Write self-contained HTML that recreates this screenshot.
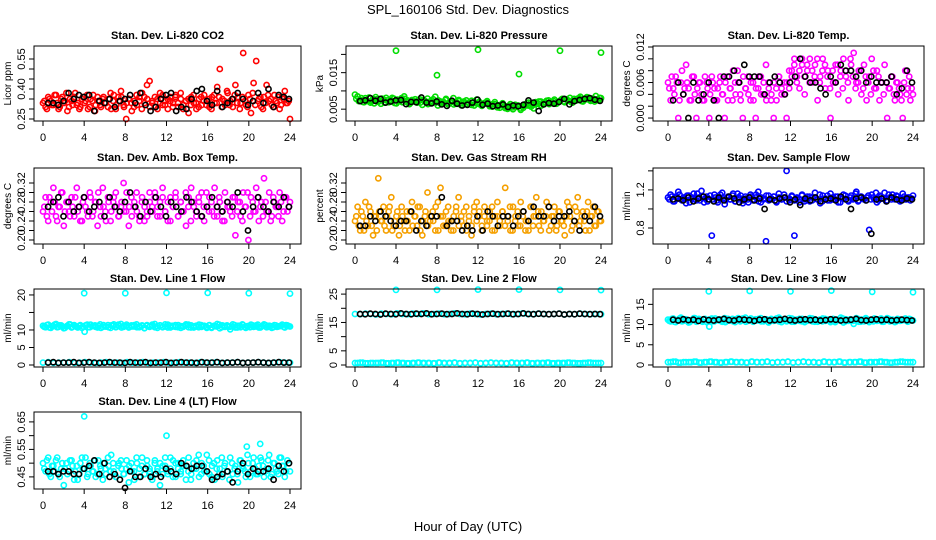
<!DOCTYPE html>
<html><head><meta charset="utf-8"><style>
html,body{margin:0;padding:0;background:#fff;}
svg{display:block;font-family:"Liberation Sans",sans-serif;}
</style></head><body>
<svg id="chart" width="936" height="540" viewBox="0 0 936 540">
<rect width="936" height="540" fill="#fff"/>
<text x="468" y="14" text-anchor="middle" font-size="13">SPL_160106  Std. Dev. Diagnostics</text>
<text x="468" y="531" text-anchor="middle" font-size="13">Hour of Day (UTC)</text>
</svg>
<script>
const xTicks = [0,4,8,12,16,20,24];
const co2Color = [0.33,0.31,0.36,0.34,0.32,0.37,0.30,0.35,0.33,0.38,0.31,0.34,0.36,0.32,0.30,0.35,0.33,0.37,0.31,0.34,0.29,0.36,0.32,0.35,0.33,0.31,0.38,0.34,0.30,0.36,0.39,0.32,0.25,0.35,0.33,0.31,0.37,0.34,0.30,0.36,0.42,0.44,0.33,0.31,0.35,0.38,0.32,0.34,0.30,0.36,0.33,0.37,0.31,0.35,0.32,0.34,0.28,0.36,0.33,0.30,0.35,0.32,0.37,0.34,0.31,0.36,0.33,0.41,0.50,0.35,0.32,0.38,0.34,0.31,0.42,0.36,0.33,0.58,0.32,0.37,0.28,0.43,0.54,0.35,0.31,0.36,0.42,0.34,0.32,0.37,0.33,0.30,0.36,0.39,0.33,0.25];
const co2Color2 = [0.34,0.30,0.35,0.32,0.37,0.33,0.31,0.36,0.34,0.29,0.35,0.32,0.38,0.33,0.31,0.36,0.34,0.30,0.35,0.37,0.32,0.34,0.31,0.36,0.33,0.35,0.30,0.37,0.32,0.34,0.36,0.31,0.33,0.35,0.29,0.34,0.32,0.36,0.38,0.33,0.35,0.31,0.34,0.36,0.30,0.33,0.37,0.32,0.35,0.34,0.31,0.36,0.33,0.38,0.30,0.34,0.35,0.32,0.37,0.33,0.31,0.36,0.34,0.32,0.35,0.30,0.37,0.33,0.36,0.31,0.34,0.39,0.32,0.35,0.37,0.33,0.30,0.36,0.34,0.31,0.35,0.38,0.32,0.34,0.36,0.30,0.33,0.37,0.35,0.31,0.34,0.36,0.32,0.35,0.33,0.34];
const co2Black = [0.33,0.33,0.32,0.34,0.38,0.35,0.37,0.36,0.37,0.29,0.34,0.33,0.35,0.31,0.34,0.35,0.37,0.33,0.38,0.32,0.29,0.31,0.35,0.37,0.38,0.29,0.31,0.30,0.35,0.39,0.40,0.34,0.32,0.39,0.31,0.33,0.35,0.38,0.35,0.32,0.34,0.38,0.33,0.40,0.31,0.37,0.36,0.35];
const presColor = [0.0090,0.0085,0.0075,0.0070,0.0080,0.0072,0.0068,0.0078,0.0083,0.0070,0.0065,0.0076,0.0081,0.0069,0.0074,0.0079,0.0066,0.0072,0.0080,0.0085,0.0070,0.0064,0.0075,0.0071,0.0068,0.0077,0.0062,0.0073,0.0079,0.0066,0.0070,0.0084,0.0060,0.0071,0.0067,0.0075,0.0063,0.0069,0.0080,0.0065,0.0072,0.0061,0.0068,0.0074,0.0066,0.0062,0.0070,0.0076,0.0064,0.0059,0.0067,0.0072,0.0058,0.0063,0.0069,0.0055,0.0061,0.0066,0.0053,0.0058,0.0064,0.0050,0.0056,0.0060,0.0048,0.0054,0.0062,0.0068,0.0057,0.0052,0.0065,0.0071,0.0060,0.0067,0.0073,0.0064,0.0070,0.0076,0.0066,0.0072,0.0078,0.0069,0.0075,0.0081,0.0068,0.0074,0.0079,0.0084,0.0071,0.0077,0.0082,0.0073,0.0079,0.0086,0.0074,0.0080];
const presColor2 = [0.0078,0.0072,0.0080,0.0069,0.0075,0.0082,0.0071,0.0066,0.0077,0.0073,0.0079,0.0068,0.0074,0.0070,0.0081,0.0067,0.0076,0.0072,0.0069,0.0078,0.0074,0.0066,0.0071,0.0077,0.0073,0.0068,0.0075,0.0070,0.0064,0.0072,0.0077,0.0068,0.0074,0.0065,0.0070,0.0078,0.0067,0.0072,0.0063,0.0069,0.0075,0.0066,0.0071,0.0064,0.0068,0.0073,0.0060,0.0066,0.0070,0.0062,0.0065,0.0068,0.0061,0.0057,0.0064,0.0060,0.0054,0.0062,0.0058,0.0051,0.0059,0.0055,0.0062,0.0057,0.0052,0.0058,0.0064,0.0060,0.0066,0.0062,0.0069,0.0065,0.0071,0.0063,0.0068,0.0074,0.0067,0.0072,0.0065,0.0070,0.0076,0.0071,0.0077,0.0073,0.0069,0.0078,0.0074,0.0080,0.0072,0.0076,0.0083,0.0075,0.0079,0.0071,0.0077,0.0081];
const presBlack = [0.0072,0.0074,0.0080,0.0073,0.0078,0.0068,0.0071,0.0074,0.0075,0.0064,0.0070,0.0069,0.0082,0.0068,0.0066,0.0071,0.0063,0.0059,0.0073,0.0065,0.0060,0.0062,0.0068,0.0076,0.0062,0.0065,0.0058,0.0060,0.0063,0.0056,0.0060,0.0058,0.0062,0.0074,0.0068,0.0045,0.0063,0.0067,0.0065,0.0070,0.0078,0.0063,0.0072,0.0075,0.0078,0.0080,0.0076,0.0073];
const presOutX = [4,8,12,16,20,24];
const presOutY = [0.0210,0.0143,0.0213,0.0146,0.0210,0.0205];
const tempColor = [0.006,0.003,0.005,0.007,0.000,0.006,0.004,0.009,0.005,0.003,0.007,0.000,0.006,0.004,0.003,0.006,0.000,0.007,0.005,0.003,0.006,0.004,0.000,0.007,0.005,0.003,0.006,0.008,0.004,0.000,0.005,0.007,0.003,0.006,0.000,0.005,0.007,0.004,0.009,0.006,0.003,0.000,0.005,0.007,0.004,0.006,0.000,0.005,0.008,0.010,0.007,0.005,0.009,0.004,0.008,0.010,0.006,0.009,0.003,0.007,0.010,0.005,0.008,0.000,0.006,0.009,0.004,0.008,0.010,0.007,0.003,0.009,0.011,0.006,0.008,0.004,0.009,0.003,0.007,0.010,0.005,0.008,0.003,0.006,0.009,0.000,0.005,0.007,0.003,0.006,0.004,0.000,0.008,0.005,0.003,0.004];
const tempColor2 = [0.005,0.007,0.004,0.006,0.003,0.008,0.005,0.006,0.003,0.007,0.004,0.005,0.006,0.003,0.007,0.005,0.004,0.006,0.003,0.005,0.007,0.004,0.006,0.003,0.005,0.008,0.004,0.006,0.003,0.007,0.005,0.004,0.006,0.003,0.005,0.007,0.004,0.006,0.003,0.005,0.004,0.006,0.003,0.007,0.005,0.004,0.006,0.008,0.007,0.009,0.006,0.008,0.010,0.007,0.009,0.006,0.008,0.007,0.010,0.006,0.008,0.009,0.007,0.005,0.008,0.006,0.009,0.007,0.005,0.008,0.006,0.010,0.007,0.005,0.006,0.008,0.005,0.007,0.006,0.004,0.008,0.005,0.007,0.006,0.004,0.006,0.005,0.007,0.004,0.006,0.005,0.003,0.006,0.004,0.007,0.005];
const tempBlack = [0.003,0.006,0.004,0.000,0.006,0.003,0.004,0.006,0.003,0.000,0.007,0.007,0.008,0.006,0.009,0.007,0.007,0.007,0.004,0.006,0.007,0.006,0.004,0.006,0.007,0.010,0.007,0.006,0.006,0.005,0.004,0.007,0.006,0.009,0.008,0.008,0.007,0.008,0.006,0.007,0.006,0.006,0.006,0.007,0.004,0.005,0.008,0.006];
const ambColor = [0.26,0.29,0.24,0.28,0.31,0.25,0.27,0.30,0.23,0.28,0.26,0.29,0.25,0.31,0.27,0.24,0.29,0.26,0.30,0.25,0.28,0.23,0.27,0.31,0.26,0.29,0.24,0.28,0.30,0.25,0.27,0.32,0.26,0.23,0.29,0.27,0.30,0.25,0.28,0.24,0.26,0.30,0.27,0.29,0.25,0.28,0.31,0.26,0.24,0.29,0.27,0.30,0.25,0.28,0.26,0.23,0.29,0.31,0.27,0.25,0.28,0.30,0.24,0.27,0.29,0.26,0.31,0.25,0.28,0.24,0.30,0.27,0.26,0.29,0.21,0.28,0.25,0.30,0.27,0.20,0.29,0.26,0.31,0.24,0.28,0.33,0.26,0.30,0.25,0.28,0.27,0.30,0.24,0.29,0.26,0.28];
const ambColor2 = [0.27,0.25,0.29,0.26,0.28,0.24,0.27,0.30,0.26,0.28,0.25,0.27,0.29,0.26,0.24,0.28,0.27,0.25,0.29,0.26,0.28,0.30,0.25,0.27,0.24,0.28,0.26,0.29,0.27,0.25,0.28,0.26,0.30,0.27,0.25,0.28,0.26,0.24,0.29,0.27,0.25,0.28,0.26,0.30,0.27,0.25,0.29,0.26,0.28,0.24,0.27,0.29,0.25,0.28,0.26,0.30,0.27,0.24,0.28,0.26,0.29,0.25,0.27,0.30,0.26,0.28,0.25,0.27,0.29,0.26,0.24,0.28,0.27,0.25,0.29,0.26,0.28,0.24,0.27,0.30,0.25,0.28,0.26,0.29,0.27,0.25,0.28,0.26,0.24,0.29,0.27,0.25,0.28,0.26,0.29,0.27];
const ambBlack = [0.27,0.28,0.29,0.25,0.28,0.26,0.27,0.29,0.26,0.27,0.28,0.25,0.29,0.27,0.26,0.28,0.30,0.27,0.25,0.28,0.26,0.29,0.27,0.25,0.28,0.27,0.26,0.29,0.28,0.26,0.25,0.27,0.29,0.27,0.26,0.28,0.27,0.30,0.26,0.22,0.27,0.29,0.27,0.26,0.28,0.27,0.29,0.27];
const rhColor = [0.24,0.27,0.22,0.25,0.28,0.23,0.26,0.21,0.25,0.33,0.24,0.27,0.22,0.26,0.29,0.23,0.25,0.21,0.27,0.24,0.26,0.22,0.28,0.25,0.23,0.27,0.21,0.25,0.30,0.24,0.26,0.22,0.28,0.31,0.25,0.23,0.27,0.24,0.22,0.26,0.29,0.25,0.23,0.27,0.24,0.21,0.26,0.28,0.25,0.23,0.27,0.24,0.26,0.22,0.25,0.28,0.23,0.26,0.31,0.24,0.22,0.27,0.25,0.23,0.28,0.26,0.24,0.22,0.27,0.25,0.29,0.23,0.26,0.24,0.28,0.22,0.25,0.27,0.23,0.26,0.24,0.21,0.28,0.25,0.23,0.27,0.29,0.24,0.26,0.22,0.28,0.25,0.27,0.23,0.26,0.24];
const rhColor2 = [0.25,0.23,0.26,0.22,0.24,0.27,0.23,0.25,0.22,0.26,0.24,0.23,0.25,0.27,0.22,0.24,0.26,0.23,0.25,0.22,0.24,0.26,0.23,0.25,0.27,0.22,0.24,0.26,0.23,0.25,0.24,0.27,0.22,0.25,0.23,0.26,0.24,0.22,0.25,0.27,0.23,0.24,0.26,0.22,0.25,0.23,0.27,0.24,0.26,0.22,0.25,0.23,0.24,0.27,0.22,0.25,0.24,0.26,0.23,0.25,0.27,0.22,0.24,0.26,0.23,0.25,0.22,0.24,0.27,0.23,0.25,0.26,0.22,0.24,0.25,0.27,0.23,0.25,0.22,0.26,0.24,0.23,0.25,0.27,0.22,0.24,0.26,0.23,0.25,0.24,0.26,0.22,0.25,0.23,0.26,0.24];
const rhBlack = [0.23,0.23,0.25,0.24,0.26,0.25,0.24,0.23,0.24,0.24,0.26,0.22,0.24,0.23,0.25,0.25,0.29,0.23,0.24,0.24,0.22,0.23,0.22,0.25,0.22,0.26,0.25,0.23,0.25,0.25,0.23,0.25,0.26,0.24,0.27,0.25,0.25,0.27,0.24,0.25,0.25,0.26,0.24,0.22,0.25,0.24,0.27,0.25];
const flowColor = [1.12,1.15,1.08,1.13,1.18,1.10,1.12,1.06,1.14,1.11,1.16,1.09,1.12,1.19,1.07,1.13,1.10,0.72,1.15,1.09,1.11,1.17,1.05,1.12,1.10,1.14,1.08,1.16,1.11,1.06,1.13,1.10,1.15,1.09,1.12,1.18,1.07,1.11,0.66,1.14,1.10,1.13,1.08,1.16,1.10,1.12,1.40,1.09,1.14,0.72,1.11,1.07,1.15,1.10,1.13,1.08,1.12,1.17,1.10,1.06,1.14,1.11,1.09,1.16,1.10,1.13,1.07,1.12,1.15,1.10,1.08,1.14,1.11,1.18,1.09,1.13,1.10,1.12,0.78,1.15,1.10,1.07,1.14,1.11,1.17,1.09,1.12,1.15,1.10,1.13,1.08,1.16,1.10,1.12,1.09,1.14];
const flowColor2 = [1.10,1.13,1.08,1.12,1.15,1.09,1.11,1.14,1.07,1.12,1.10,1.16,1.09,1.13,1.11,1.08,1.14,1.10,1.12,1.07,1.15,1.11,1.09,1.13,1.10,1.16,1.08,1.12,1.14,1.09,1.11,1.07,1.13,1.10,1.15,1.08,1.12,1.10,1.14,1.09,1.11,1.13,1.07,1.12,1.10,1.15,1.08,1.11,1.13,1.09,1.12,1.10,1.14,1.08,1.11,1.13,1.09,1.12,1.10,1.15,1.08,1.11,1.14,1.09,1.12,1.10,1.13,1.07,1.11,1.14,1.09,1.12,1.10,1.16,1.08,1.13,1.11,1.09,1.14,1.10,1.12,1.17,1.09,1.13,1.11,1.08,1.15,1.10,1.12,1.14,1.09,1.11,1.13,1.10,1.12,1.11];
const flowBlack = [1.10,1.11,1.09,1.12,1.08,1.11,1.13,1.10,1.08,1.12,1.09,1.13,1.11,1.07,1.10,1.12,1.09,1.11,1.00,1.10,1.09,1.11,1.12,1.07,1.10,1.04,1.11,1.09,1.12,1.08,1.10,1.11,1.09,1.13,1.10,1.00,1.11,1.12,1.09,0.74,1.10,1.11,1.08,1.12,1.10,1.09,1.11,1.10];
const line1Band = [11.2,10.8,11.5,10.6,11.1,11.7,10.9,11.3,10.5,11.0,11.6,10.7,11.4,10.9,11.2,10.6,9.5,11.5,10.8,11.1,11.3,10.7,11.6,10.9,11.0,11.4,10.6,11.2,10.8,11.5,11.7,10.9,11.1,10.7,11.3,11.0,11.6,10.8,11.2,10.5,11.4,10.9,11.1,11.7,10.6,11.3,10.8,11.0,11.5,10.7,11.2,10.9,11.4,10.6,11.1,11.6,10.8,11.3,10.7,11.0,11.5,10.9,11.2,10.6,11.4,10.8,11.1,11.7,10.5,11.3,10.9,11.0,10.2,11.6,10.7,11.2,10.8,11.4,10.6,11.1,11.5,10.9,11.3,10.7,11.0,11.6,10.8,11.2,10.6,11.4,10.9,11.1,11.5,10.7,11.3,11.0];
const line1Band2 = [10.9,11.4,10.7,11.1,11.5,10.8,11.3,11.0,10.6,11.2,11.6,10.9,11.1,10.7,11.4,11.0,11.3,10.8,11.5,11.1,10.9,11.2,10.6,11.4,11.0,10.8,11.3,11.6,10.9,11.1,10.7,11.2,11.5,10.9,11.0,11.4,10.8,11.1,11.3,10.6,11.2,11.0,11.5,10.8,11.1,11.3,10.9,11.6,10.7,11.2,11.0,11.4,10.8,11.1,10.9,11.3,11.5,10.7,11.0,11.2,10.8,11.4,11.1,10.9,11.3,10.6,11.2,11.0,11.5,10.8,11.1,11.3,10.9,11.0,11.4,10.7,11.2,11.6,10.9,11.1,10.8,11.3,11.0,11.5,10.7,11.2,11.4,10.9,11.1,10.8,11.3,11.0,11.2,10.9,11.4,11.1];
const lowBand = [0.7,0.8,0.6,0.7,0.7,0.8,0.6,0.7,0.8,0.7,0.6,0.7,0.8,0.7,0.7,0.6,0.8,0.7,0.7,0.8,0.6,0.7,0.7,0.8,0.6,0.7,0.8,0.7,0.7,0.6,0.8,0.7,0.7,0.8,0.6,0.7,0.7,0.8,0.6,0.7,0.7,0.8,0.7,0.6,0.7,0.8,0.7,0.7];
const line2Black = [18.0,17.9,18.1,18.0,17.8,18.1,18.0,17.9,18.2,18.0,17.9,18.1,18.0,18.2,17.9,18.0,18.1,17.9,18.0,18.2,18.0,17.9,18.1,18.0,17.8,18.0,18.1,17.9,18.0,18.1,17.9,18.0,18.2,18.0,17.9,18.1,18.0,17.9,18.0,18.1,17.8,18.0,17.9,18.1,18.0,17.9,18.0,17.9];
const line3Black = [11.2,11.0,11.3,11.1,11.2,10.9,11.3,11.1,11.0,11.2,11.4,11.1,11.0,11.3,11.2,11.1,10.9,11.2,11.3,11.0,11.1,11.2,11.4,11.1,11.0,11.2,11.3,11.1,11.2,11.0,11.1,11.3,11.2,11.0,11.1,11.2,11.4,11.1,11.0,11.2,11.3,11.1,11.2,11.0,11.1,11.2,11.1,11.0];
const line4Color = [0.50,0.47,0.52,0.45,0.49,0.51,0.46,0.48,0.42,0.50,0.47,0.51,0.44,0.49,0.46,0.52,0.48,0.45,0.50,0.47,0.51,0.46,0.49,0.44,0.48,0.52,0.47,0.50,0.45,0.49,0.51,0.46,0.48,0.43,0.50,0.47,0.52,0.45,0.49,0.46,0.51,0.48,0.44,0.50,0.47,0.42,0.49,0.52,0.46,0.48,0.51,0.45,0.50,0.47,0.49,0.44,0.52,0.46,0.48,0.51,0.45,0.50,0.47,0.53,0.46,0.49,0.44,0.51,0.48,0.45,0.50,0.47,0.52,0.46,0.49,0.43,0.51,0.48,0.45,0.50,0.47,0.52,0.46,0.49,0.51,0.45,0.48,0.53,0.46,0.50,0.47,0.52,0.49,0.45,0.51,0.47];
const line4Color2 = [0.48,0.51,0.46,0.49,0.47,0.52,0.45,0.50,0.48,0.46,0.51,0.49,0.47,0.44,0.50,0.48,0.52,0.46,0.49,0.47,0.45,0.51,0.48,0.50,0.46,0.49,0.53,0.47,0.45,0.50,0.48,0.46,0.51,0.49,0.47,0.44,0.50,0.48,0.52,0.46,0.49,0.47,0.45,0.51,0.48,0.50,0.46,0.49,0.47,0.52,0.45,0.50,0.48,0.46,0.51,0.49,0.47,0.44,0.50,0.48,0.53,0.46,0.49,0.47,0.51,0.45,0.50,0.48,0.46,0.52,0.49,0.47,0.44,0.50,0.48,0.46,0.51,0.49,0.47,0.53,0.45,0.50,0.48,0.46,0.52,0.49,0.47,0.51,0.45,0.50,0.48,0.46,0.52,0.49,0.47,0.50];
const line4Black = [0.47,0.47,0.46,0.47,0.47,0.46,0.46,0.48,0.49,0.51,0.46,0.50,0.45,0.46,0.44,0.41,0.47,0.45,0.45,0.48,0.45,0.46,0.45,0.48,0.47,0.46,0.50,0.49,0.48,0.49,0.49,0.47,0.44,0.45,0.46,0.47,0.43,0.47,0.50,0.46,0.48,0.47,0.47,0.48,0.44,0.49,0.47,0.50];
const line1OutX = [4,8,12,16,20,24];
const line1OutY = [20.5,20.5,20.6,20.6,20.5,20.4];
const line2OutY = [26.5,26.5,26.6,26.6,26.5,26.4];
const line3OutY = [18.2,18.3,18.2,18.4,18.1,18.0];
const line4OutX = [4,12,19.8,21.1];
const line4OutY = [0.67,0.60,0.56,0.57];

const cols = [[34,301,43,290],[346,612,355,601],[653,924,668,913]];
const rows = [[46,121],[168,244],[289,367],[412,489]];
const panels = [
 {name:'co2',c:0,r:0,title:'Stan. Dev. Li-820 CO2',yl:'Licor ppm',ylim:[0.24,0.615],ticks:[0.25,0.30,0.35,0.40,0.45,0.50,0.55],labels:['0.25','0.40','0.55'],series:[{y:co2Color,col:'#ff0000'},{y:co2Color2,col:'#ff0000',half:true},{y:co2Black,col:'#000',black:true}]},
 {name:'pressure',c:1,r:0,title:'Stan. Dev. Li-820 Pressure',yl:'kPa',ylim:[0.00176,0.0223],ticks:[0.005,0.010,0.015,0.020],labels:['0.005','0.015'],series:[{y:presColor,col:'#00dd00'},{y:presColor2,col:'#00dd00',half:true},{y:presBlack,col:'#000',black:true},{x:presOutX,y:presOutY,col:'#00dd00'}]},
 {name:'temp',c:2,r:0,title:'Stan. Dev. Li-820 Temp.',yl:'degrees C',ylim:[-0.0005,0.01217],ticks:[0,0.002,0.004,0.006,0.008,0.010,0.012],labels:['0.000','0.006','0.012'],series:[{y:tempColor,col:'#ff00ff'},{y:tempColor2,col:'#ff00ff',half:true},{y:tempBlack,col:'#000',black:true}]},
 {name:'amb-temp',c:0,r:1,title:'Stan. Dev. Amb. Box Temp.',yl:'degrees C',ylim:[0.1916,0.3516],ticks:[0.20,0.22,0.24,0.26,0.28,0.30,0.32],labels:['0.20','0.24','0.28','0.32'],series:[{y:ambColor,col:'#ff00ff'},{y:ambColor2,col:'#ff00ff',half:true},{y:ambBlack,col:'#000',black:true}]},
 {name:'gas-rh',c:1,r:1,title:'Stan. Dev. Gas Stream RH',yl:'percent',ylim:[0.1916,0.3516],ticks:[0.20,0.22,0.24,0.26,0.28,0.30,0.32],labels:['0.20','0.24','0.28','0.32'],series:[{y:rhColor,col:'#f5a000'},{y:rhColor2,col:'#f5a000',half:true},{y:rhBlack,col:'#000',black:true}]},
 {name:'sample-flow',c:2,r:1,title:'Stan. Dev. Sample Flow',yl:'ml/min',ylim:[0.632,1.43],ticks:[0.8,1.0,1.2,1.4],labels:['0.8','1.2'],series:[{y:flowColor,col:'#0000ff'},{y:flowColor2,col:'#0000ff',half:true},{y:flowBlack,col:'#000',black:true}]},
 {name:'line1-flow',c:0,r:2,title:'Stan. Dev. Line 1 Flow',yl:'ml/min',ylim:[-0.57,21.7],ticks:[0,5,10,15,20],labels:['0','5','10','20'],series:[{y:line1Band,col:'#00ffff'},{y:line1Band2,col:'#00ffff',half:true},{y:lowBand,col:'#00ffff'},{y:lowBand,col:'#000',black:true},{x:line1OutX,y:line1OutY,col:'#00ffff'}]},
 {name:'line2-flow',c:1,r:2,title:'Stan. Dev. Line 2 Flow',yl:'ml/min',ylim:[-0.7,26.8],ticks:[0,5,10,15,20,25],labels:['0','5','15','25'],series:[{y:lowBand,col:'#00ffff'},{y:lowBand,col:'#00ffff',half:true},{y:line2Black,col:'#00ffff'},{y:line2Black,col:'#000',black:true},{x:line1OutX,y:line2OutY,col:'#00ffff'}]},
 {name:'line3-flow',c:2,r:2,title:'Stan. Dev. Line 3 Flow',yl:'ml/min',ylim:[-0.5,18.8],ticks:[0,5,10,15],labels:['0','5','10','15'],series:[{y:line1Band,col:'#00ffff'},{y:line1Band2,col:'#00ffff',half:true},{y:lowBand,col:'#00ffff'},{y:lowBand,col:'#00ffff',half:true},{y:line3Black,col:'#000',black:true},{x:line1OutX,y:line3OutY,col:'#00ffff'}]},
 {name:'line4-flow',c:0,r:3,title:'Stan. Dev. Line 4 (LT) Flow',yl:'ml/min',ylim:[0.406,0.686],ticks:[0.45,0.50,0.55,0.60,0.65],labels:['0.45','0.55','0.65'],series:[{y:line4Color,col:'#00ffff'},{y:line4Color2,col:'#00ffff',half:true},{y:line4Black,col:'#000',black:true},{x:line4OutX,y:line4OutY,col:'#00ffff'}]}
];
const NS='http://www.w3.org/2000/svg';
const svg=document.getElementById('chart');
function mk(tag,attrs,parent){const e=document.createElementNS(NS,tag);for(const k in attrs)e.setAttribute(k,attrs[k]);(parent||svg).appendChild(e);return e;}
panels.forEach(p=>{
 const [bl,br,t0,t24]=cols[p.c];const [bt,bb]=rows[p.r];
 const g=mk('g',{});
 
 
 const xs=v=>t0+v/24*(t24-t0);
 const ys=v=>bb-(v-p.ylim[0])/(p.ylim[1]-p.ylim[0])*(bb-bt);
 p.series.forEach(s=>{
  const n=s.y.length;
  s.y.forEach((v,i)=>{
   let xv;
   if (s.x) xv = s.x[i];
   else if (s.black) xv = 0.5+i*(23.9-0.5)/(n-1);
   else if (s.half) xv = (i+0.5)*24/n;
   else xv = i*24/(n-1);
   let yv = Math.max(p.ylim[0],Math.min(p.ylim[1],v));
   const c=mk('circle',{cx:xs(xv).toFixed(1),cy:ys(yv).toFixed(1),r:2.6,fill:'none',stroke:s.col,'stroke-width':1.6},g);
   
   
  });
 });
 const box=mk('rect',{x:bl,y:bt,width:br-bl,height:bb-bt,fill:'none',stroke:'#000','stroke-width':1},g);
 
 
 const tt=mk('text',{x:(bl+br)/2,y:bt-7,'text-anchor':'middle','font-size':11,'font-weight':'bold'},g);
 tt.textContent=p.title;
 
 
 mk('line',{x1:xs(0),x2:xs(24),y1:bb,y2:bb,stroke:'#000'},g);
 xTicks.forEach(t=>{
  mk('line',{x1:xs(t),x2:xs(t),y1:bb,y2:bb+5,stroke:'#000'},g);
  const l=mk('text',{x:xs(t),y:bb+20,'text-anchor':'middle','font-size':11},g);
  l.textContent=t;
  
  
 });
 mk('line',{x1:bl,x2:bl,y1:ys(p.ticks[0]),y2:ys(p.ticks[p.ticks.length-1]),stroke:'#000'},g);
 p.ticks.forEach(t=>{mk('line',{x1:bl-5,x2:bl,y1:ys(t),y2:ys(t),stroke:'#000'},g);});
 p.labels.forEach(s=>{
  const y=ys(parseFloat(s));
  const l=mk('text',{x:0,y:0,'text-anchor':'middle','font-size':11,transform:`translate(${bl-9},${y}) rotate(-90)`},g);
  l.textContent=s;
  
  
 });
 const yt=mk('text',{x:0,y:0,'text-anchor':'middle','font-size':10,transform:`translate(${bl-23},${(bt+bb)/2}) rotate(-90)`},g);
 yt.textContent=p.yl;
 
 
});
</script>
</body></html>
